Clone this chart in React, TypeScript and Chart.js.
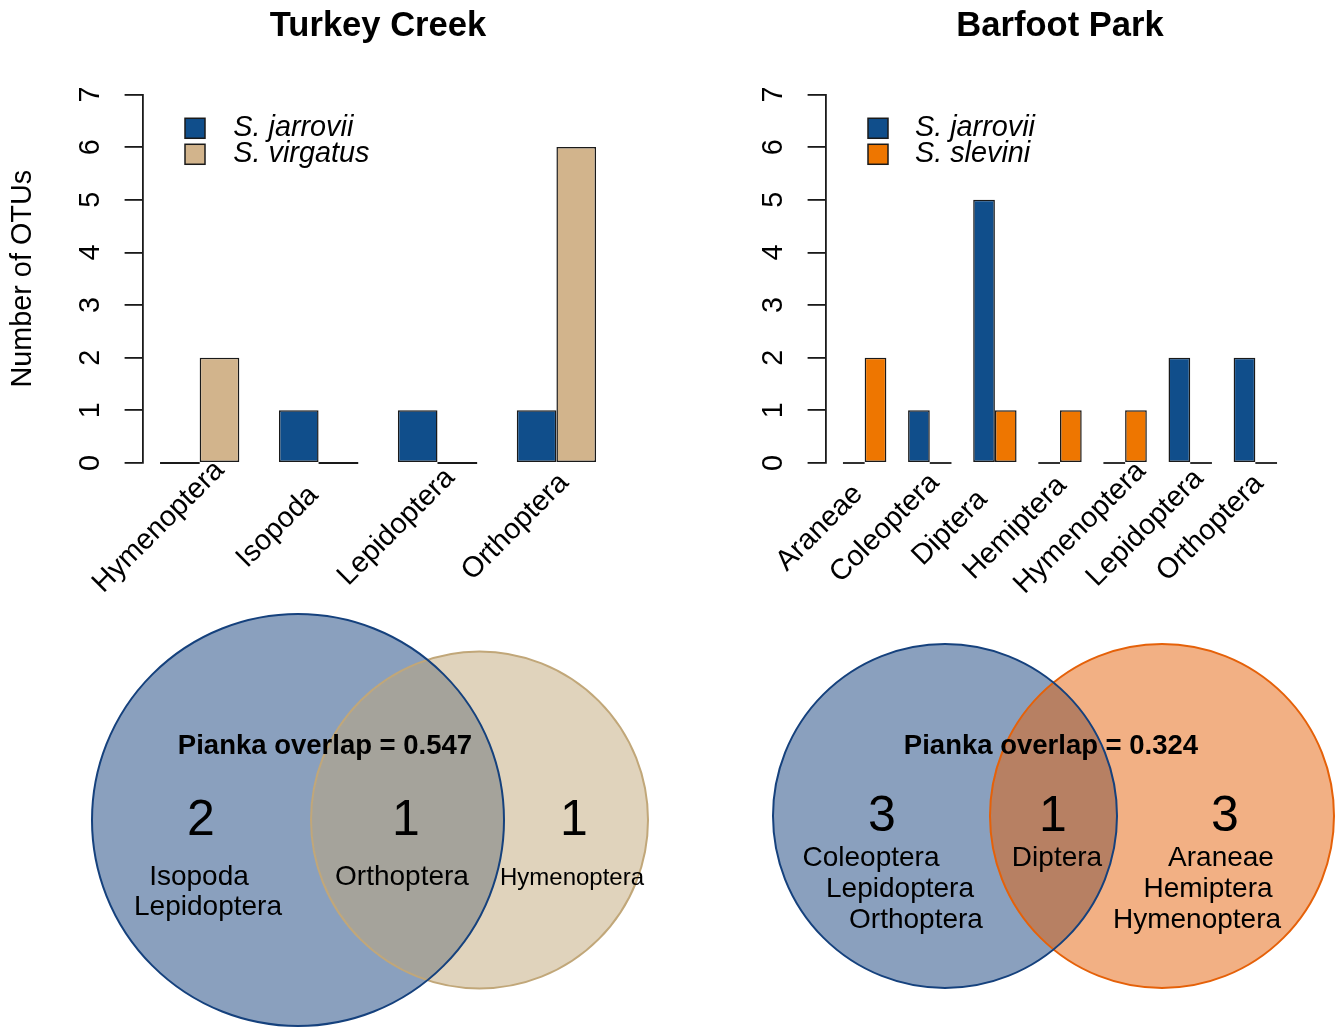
import React, { useEffect, useRef } from "react";
import { Chart, registerables } from "chart.js";

Chart.register(...registerables);

const FONT = "'Liberation Sans', Arial, Helvetica, sans-serif";
Chart.defaults.font.family = FONT;
Chart.defaults.color = "#000";

// ---------- data: Turkey Creek ----------
const tcCategories = ["Hymenoptera", "Isopoda", "Lepidoptera", "Orthoptera"];
const tcJarrovii = [0, 1, 1, 1];
const tcVirgatus = [2, 0, 0, 6];

// ---------- data: Barfoot Park ----------
const bpCategories = ["Araneae", "Coleoptera", "Diptera", "Hemiptera", "Hymenoptera", "Lepidoptera", "Orthoptera"];
const bpJarrovii = [0, 1, 5, 0, 0, 2, 2];
const bpSlevini = [2, 0, 1, 1, 1, 0, 0];

const yTickValues = [0, 1, 2, 3, 4, 5, 6, 7];

// ---------- Venn data ----------
const tcOnlyJarrovii = ["Isopoda", "Lepidoptera"];
const tcShared = ["Orthoptera"];
const tcOnlyVirgatus = ["Hymenoptera"];
const tcPianka = 0.547;

const bpOnlyJarrovii = ["Coleoptera", "Lepidoptera", "Orthoptera"];
const bpShared = ["Diptera"];
const bpOnlySlevini = ["Araneae", "Hemiptera", "Hymenoptera"];
const bpPianka = 0.324;

// circle geometry (page pixel coordinates)
const tcCircles = [
  { x: 298, y: 820, r: 206 },
  { x: 479.5, y: 820, r: 168.5 },
];
const bpCircles = [
  { x: 945, y: 816, r: 172 },
  { x: 1162, y: 816, r: 172 },
];

// text anchor layout for Venn diagrams
const tcTextPos = {
  title: [325, 746],
  counts: [[201, 821], [406, 821], [574, 821]],
  names: [[[199, 877], [208, 907]], [[402, 877]], [[572, 878]]],
  sizes: [28, 28, 24],
};
const bpTextPos = {
  title: [1051, 746],
  counts: [[882, 817], [1053, 817], [1225, 817]],
  names: [[[871, 858], [900, 889], [916, 920]], [[1057, 858]], [[1221, 858], [1208, 889], [1197, 920]]],
  sizes: [28, 28, 28],
};

const BLUE = "#104E8B";
const TAN = "#D2B48C";
const ORANGE = "#EE7600";
const BLUE_RGB = "21,65,125";
const TAN_RGB = "193,167,121";
const ORANGE_RGB = "229,97,9";

// ---------- plugins ----------
const zeroBarPlugin = {
  id: "zeroBars",
  afterDatasetsDraw(chart: any) {
    const { ctx } = chart;
    ctx.save();
    ctx.strokeStyle = "#1a1a1a";
    ctx.lineWidth = 1.8;
    chart.data.datasets.forEach((ds: any, di: number) => {
      const meta = chart.getDatasetMeta(di);
      meta.data.forEach((el: any, i: number) => {
        if (ds.data[i].y !== 0) return;
        const { x, width, base } = el.getProps(["x", "width", "base"], true);
        ctx.beginPath();
        ctx.moveTo(x - width / 2, base);
        ctx.lineTo(x + width / 2, base);
        ctx.stroke();
      });
    });
    ctx.restore();
  },
};

const rLegendPlugin = {
  id: "rLegend",
  afterDraw(chart: any, _a: any, opts: any) {
    const { ctx, chartArea } = chart;
    ctx.save();
    chart.data.datasets.forEach((ds: any, i: number) => {
      const cy = chartArea.top + opts.firstY + i * opts.spacing;
      const bx = chartArea.left + opts.boxX;
      ctx.fillStyle = ds.backgroundColor;
      ctx.fillRect(bx, cy - opts.box / 2, opts.box, opts.box);
      ctx.strokeStyle = "#1a1a1a";
      ctx.lineWidth = 1.5;
      ctx.strokeRect(bx, cy - opts.box / 2, opts.box, opts.box);
      ctx.fillStyle = "#000";
      ctx.font = `italic 28.8px ${FONT}`;
      ctx.textAlign = "left";
      ctx.textBaseline = "middle";
      ctx.fillText(ds.label, chartArea.left + opts.textX, cy);
    });
    ctx.restore();
  },
};

const rotLabelPlugin = {
  id: "rotLabels",
  afterDraw(chart: any, _a: any, opts: any) {
    const { ctx, chartArea } = chart;
    const xs = chart.scales.x;
    ctx.save();
    ctx.fillStyle = "#000";
    ctx.font = `28.8px ${FONT}`;
    ctx.textAlign = "center";
    ctx.textBaseline = "middle";
    opts.names.forEach((lab: string, i: number) => {
      ctx.save();
      ctx.translate(xs.getPixelForValue(opts.centers[i]) + opts.dx, chartArea.bottom + opts.dy);
      ctx.rotate(-Math.PI / 4);
      ctx.fillText(lab, 0, 0);
      ctx.restore();
    });
    ctx.restore();
  },
};

const vennTextPlugin = {
  id: "vennText",
  afterDatasetsDraw(chart: any, _a: any, opts: any) {
    const { ctx } = chart;
    const xs = chart.scales.x;
    const ys = chart.scales.y;
    ctx.save();
    ctx.fillStyle = "#000";
    ctx.textAlign = "center";
    ctx.textBaseline = "middle";
    opts.items.forEach((it: any) => {
      ctx.font = `${it.bold ? "bold " : ""}${it.size}px ${FONT}`;
      ctx.fillText(it.text, xs.getPixelForValue(it.x), ys.getPixelForValue(it.y));
    });
    ctx.restore();
  },
};

// ---------- configs ----------
type Series = { label: string; values: number[]; color: string };
type BarSpec = {
  title: string;
  categories: string[];
  series: Series[];
  axisWidth: number;
  rightWidth: number;
  yTitle?: string;
  labelDx: number;
  labelDy: number;
  legendTextX: number;
};

function barConfig(spec: BarSpec): any {
  const n = spec.categories.length;
  const centers = spec.categories.map((_, i) => 3 * i + 2);
  const ext = 0.04 * (3 * n - 1);
  return {
    type: "bar",
    data: {
      datasets: spec.series.map((s) => ({
        label: s.label,
        data: s.values.map((v, i) => ({ x: centers[i], y: v })),
        backgroundColor: s.color,
        borderColor: "#1a1a1a",
        borderWidth: 1.5,
        borderSkipped: false,
        categoryPercentage: 2 / 3,
        barPercentage: 1,
        yAxisID: "y",
      })),
    },
    options: {
      responsive: true,
      maintainAspectRatio: false,
      animation: false,
      events: [],
      layout: { padding: { left: 0, right: 0, top: 0, bottom: 137 }, autoPadding: false },
      scales: {
        x: {
          type: "linear",
          offset: false,
          min: 1 - ext,
          max: 3 * n + ext,
          display: false,
          afterBuildTicks: (s: any) => {
            s.ticks = centers.map((v) => ({ value: v }));
          },
        },
        y: {
          type: "linear",
          position: "left",
          min: 0,
          max: 7,
          afterBuildTicks: (s: any) => {
            s.ticks = yTickValues.map((v) => ({ value: v }));
          },
          afterFit: (s: any) => {
            s.width = spec.axisWidth;
          },
          border: { display: true, color: "#1a1a1a", width: 1.8 },
          grid: { display: true, drawOnChartArea: false, drawTicks: true, tickLength: 18, color: "#1a1a1a", lineWidth: 1.8 },
          ticks: { minRotation: 90, maxRotation: 90, crossAlign: "center", padding: 25.4, color: "#000", font: { size: 28.8, family: FONT } },
          title: {
            display: !!spec.yTitle,
            text: spec.yTitle || "",
            color: "#000",
            font: { size: 28.8, family: FONT },
            padding: { top: 5.7, bottom: 0 },
          },
        },
        yr: {
          type: "linear",
          position: "right",
          display: true,
          grid: { display: false },
          border: { display: false },
          ticks: { display: false },
          afterFit: (s: any) => {
            s.width = spec.rightWidth;
          },
        },
      },
      plugins: {
        legend: { display: false },
        tooltip: { enabled: false },
        title: {
          display: true,
          text: spec.title,
          color: "#000",
          font: { size: 34.56, weight: "bold", family: FONT },
          padding: { top: 6, bottom: 47 },
        },
        rLegend: { boxX: 42.4, textX: spec.legendTextX, firstY: 33.8, spacing: 26, box: 20 },
        rotLabels: { names: spec.categories, centers, dx: spec.labelDx, dy: spec.labelDy },
      },
    },
    plugins: [zeroBarPlugin, rLegendPlugin, rotLabelPlugin],
  };
}

function vennItems(pos: any, groups: string[][], pianka: number) {
  const items: any[] = [
    { text: `Pianka overlap = ${pianka.toFixed(3)}`, x: pos.title[0], y: pos.title[1], size: 27.5, bold: true },
  ];
  groups.forEach((g, gi) => {
    items.push({ text: String(g.length), x: pos.counts[gi][0], y: pos.counts[gi][1], size: 50, bold: false });
    g.forEach((name, ni) => {
      items.push({ text: name, x: pos.names[gi][ni][0], y: pos.names[gi][ni][1], size: pos.sizes[gi], bold: false });
    });
  });
  return items;
}

function vennConfig(): any {
  const fill = (label: string, c: any, rgb: string, order: number) => ({
    label,
    data: [{ x: c.x, y: c.y, r: c.r }],
    backgroundColor: `rgba(${rgb},0.5)`,
    borderWidth: 0,
    order,
    clip: false,
  });
  const line = (label: string, c: any, rgb: string) => ({
    label,
    data: [{ x: c.x, y: c.y, r: c.r }],
    backgroundColor: "rgba(0,0,0,0)",
    borderColor: `rgb(${rgb})`,
    borderWidth: 2,
    order: 0,
    clip: false,
  });
  return {
    type: "bubble",
    data: {
      datasets: [
        fill("TC S. jarrovii", tcCircles[0], BLUE_RGB, 3),
        fill("TC S. virgatus", tcCircles[1], TAN_RGB, 2),
        fill("BP S. jarrovii", bpCircles[0], BLUE_RGB, 3),
        fill("BP S. slevini", bpCircles[1], ORANGE_RGB, 2),
        line("TC S. jarrovii outline", tcCircles[0], BLUE_RGB),
        line("TC S. virgatus outline", tcCircles[1], TAN_RGB),
        line("BP S. jarrovii outline", bpCircles[0], BLUE_RGB),
        line("BP S. slevini outline", bpCircles[1], ORANGE_RGB),
      ],
    },
    options: {
      responsive: true,
      maintainAspectRatio: false,
      animation: false,
      events: [],
      layout: { padding: 0, autoPadding: false },
      scales: {
        x: { type: "linear", min: 0, max: 1338, display: false },
        y: { type: "linear", min: 600, max: 1027, reverse: true, display: false },
      },
      plugins: {
        legend: { display: false },
        tooltip: { enabled: false },
        vennText: {
          items: [
            ...vennItems(tcTextPos, [tcOnlyJarrovii, tcShared, tcOnlyVirgatus], tcPianka),
            ...vennItems(bpTextPos, [bpOnlyJarrovii, bpShared, bpOnlySlevini], bpPianka),
          ],
        },
      },
    },
    plugins: [vennTextPlugin],
  };
}

function ChartBox(props: { left: number; top: number; width: number; height: number; make: () => any }) {
  const ref = useRef<HTMLCanvasElement>(null);
  useEffect(() => {
    const chart = new Chart(ref.current as HTMLCanvasElement, props.make());
    return () => chart.destroy();
  }, []);
  return (
    <div style={{ position: "absolute", left: props.left, top: props.top, width: props.width, height: props.height }}>
      <canvas ref={ref} />
    </div>
  );
}

export default function App() {
  return (
    <div style={{ position: "absolute", left: 0, top: 0, width: 1338, height: 1027, overflow: "hidden", background: "#fff" }}>
      <ChartBox
        left={0}
        top={0}
        width={756}
        height={600}
        make={() =>
          barConfig({
            title: "Turkey Creek",
            categories: tcCategories,
            series: [
              { label: "S. jarrovii", values: tcJarrovii, color: BLUE },
              { label: "S. virgatus", values: tcVirgatus, color: TAN },
            ],
            axisWidth: 142.6,
            rightWidth: 142.5,
            yTitle: "Number of OTUs",
            labelDx: -41,
            labelDy: 64,
            legendTextX: 90.7,
          })
        }
      />
      <ChartBox
        left={760}
        top={0}
        width={600}
        height={600}
        make={() =>
          barConfig({
            title: "Barfoot Park",
            categories: bpCategories,
            series: [
              { label: "S. jarrovii", values: bpJarrovii, color: BLUE },
              { label: "S. slevini", values: bpSlevini, color: ORANGE },
            ],
            axisWidth: 65.6,
            rightWidth: 65.6,
            labelDx: -45,
            labelDy: 65,
            legendTextX: 89.4,
          })
        }
      />
      <ChartBox left={0} top={600} width={1338} height={427} make={vennConfig} />
    </div>
  );
}
